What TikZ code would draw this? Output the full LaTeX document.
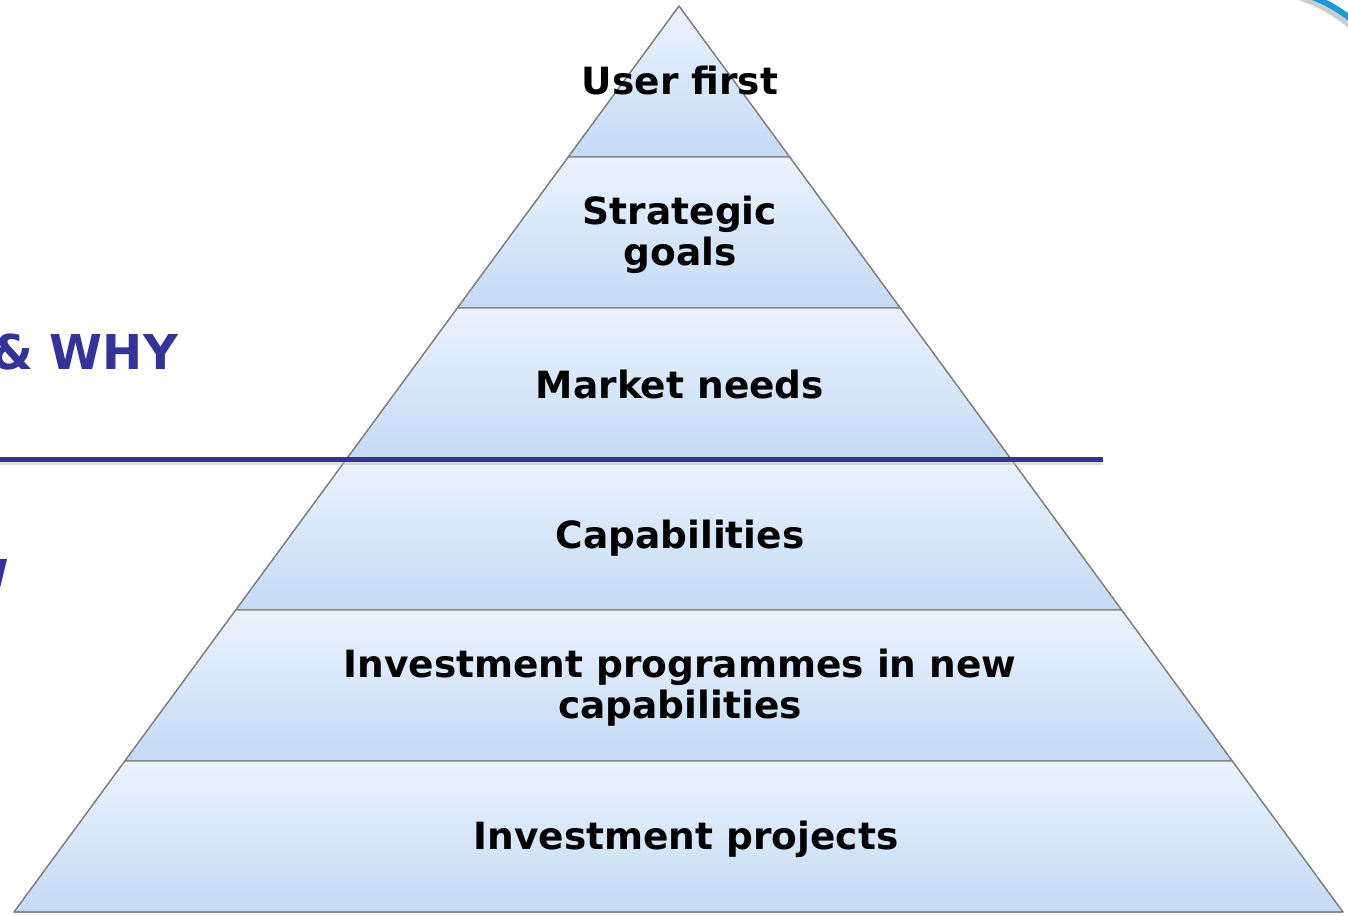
\documentclass[tikz,border=0pt]{standalone}
\usepackage{fontspec}
\setmainfont{DejaVu Sans}
\definecolor{layertop}{HTML}{EBF3FC}
\definecolor{layerbot}{HTML}{C4DBF5}
\definecolor{edgegray}{HTML}{7F7F7F}
\definecolor{navy}{HTML}{333399}
\definecolor{arcblue}{HTML}{1C9AD6}
\begin{document}
\begin{tikzpicture}[x=1pt,y=-1pt,
  layer/.style={top color=layertop,bottom color=layerbot,draw=edgegray,line width=1.2pt,line join=round},
  lbl/.style={font=\fontsize{37.5}{41}\selectfont\bfseries,align=center,text=black,inner sep=0pt},
  side/.style={font=\fontsize{48}{54}\selectfont\bfseries,text=navy,inner sep=0pt}]
\useasboundingbox (0,0) rectangle (1348,915);
\clip (0,0) rectangle (1348,915);
% corner points of layers
\coordinate (A) at (679,6);
\coordinate (L1) at (568.2,157); \coordinate (R1) at (789.7,157);
\coordinate (L2) at (457.3,308); \coordinate (R2) at (900.3,308);
\coordinate (L3) at (346.5,459); \coordinate (R3) at (1011,459);
\coordinate (L4) at (235.7,610); \coordinate (R4) at (1121.7,610);
\coordinate (L5) at (124.8,761); \coordinate (R5) at (1232.3,761);
\coordinate (L6) at (14,912);    \coordinate (R6) at (1343,912);
% layers
\shade[layer] (A) -- (R1) -- (L1) -- cycle;
\shade[layer] (L1) -- (R1) -- (R2) -- (L2) -- cycle;
\shade[layer] (L2) -- (R2) -- (R3) -- (L3) -- cycle;
\shade[layer] (L3) -- (R3) -- (R4) -- (L4) -- cycle;
\shade[layer] (L4) -- (R4) -- (R5) -- (L5) -- cycle;
\shade[layer] (L5) -- (R5) -- (R6) -- (L6) -- cycle;
\draw[edgegray,line width=1.2pt,line join=round] (A) -- (R6) -- (L6) -- cycle;
% divider line with soft shadow
\coordinate (d0) at (0,459);
\coordinate (d1) at (1103,459);
\draw[black!25,line width=5pt,opacity=0.5] ([yshift=-3.5pt]d0) -- ([yshift=-3.5pt]d1);
\draw[navy,line width=5pt] (d0) -- (d1);
% labels
\node[lbl] (t1) at (680,81) {User first};
\node[lbl] (t2) at (680,235) {Strategic\\goals};
\node[lbl] (t3) at (680,385) {Market needs};
\node[lbl] (t4) at (680,538) {Capabilities};
\node[lbl] (t5) at (680,688) {Investment programmes in new\\capabilities};
\node[lbl] (t6) at (686,839) {Investment projects};
% left side texts (cut by the border)
\node[side,anchor=east] (why) at (178,352) {\& WHY};
\fill[navy] (0,559) -- (7,559) -- (0,588) -- cycle;
% top right arc
\draw[black!20,line width=5pt] (1300,-2) .. controls (1318,4) and (1333,12) .. (1350,26);
\draw[arcblue,line width=6pt] (1310,-4) .. controls (1326,2) and (1338,9) .. (1352,20);
\end{tikzpicture}
\end{document}
